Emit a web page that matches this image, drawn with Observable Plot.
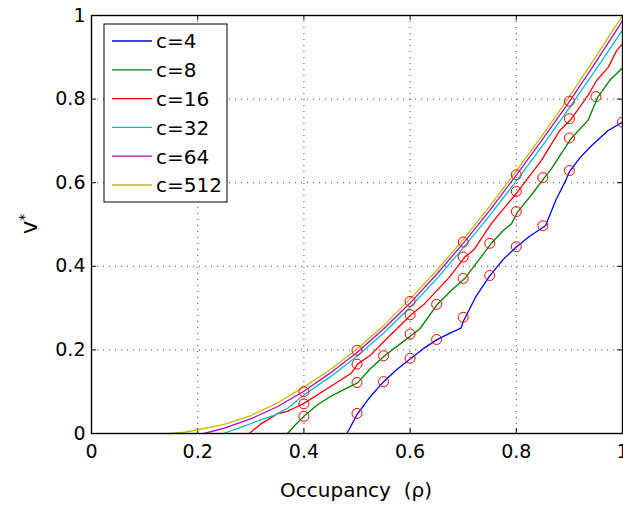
<!DOCTYPE html>
<html><head><meta charset="utf-8">
<script src="https://cdn.jsdelivr.net/npm/d3@7"></script>
<script src="https://cdn.jsdelivr.net/npm/@observablehq/plot@0.6"></script>
<style>
body{margin:0;background:#fff}
svg{font-family:"DejaVu Sans",sans-serif}
</style>
</head><body><div id="chart"></div>
<script>
// ---- data ----
const seriesNames = ["c=4","c=8","c=16","c=32","c=64","c=512"];
const seriesColors = ["#0000ff","#008000","#ff0000","#00bfbf","#bf00bf","#bfbf00"];

const c4X = [0.481,0.5,0.525,0.55,0.575,0.6,0.625,0.65,0.675,0.696,0.7,0.725,0.75,0.775,0.8,0.825,0.855,0.875,0.894,0.9,0.92,0.942,0.973,1.0];
const c4Y = [0,0.045,0.088,0.124,0.153,0.178,0.203,0.224,0.24,0.252,0.268,0.33,0.377,0.416,0.446,0.472,0.497,0.56,0.608,0.626,0.66,0.689,0.725,0.745];

const c8X = [0.369,0.385,0.4,0.425,0.451,0.475,0.501,0.525,0.552,0.585,0.618,0.652,0.68,0.703,0.743,0.753,0.775,0.791,0.803,0.83,0.853,0.866,0.904,0.935,0.954,0.976,1.0];
const c8Y = [0,0.022,0.041,0.068,0.089,0.105,0.121,0.155,0.186,0.218,0.25,0.31,0.345,0.371,0.438,0.455,0.485,0.502,0.531,0.573,0.612,0.633,0.707,0.749,0.806,0.845,0.875];

const c16X = [0.297,0.319,0.35,0.369,0.382,0.4,0.451,0.489,0.501,0.526,0.552,0.602,0.627,0.674,0.703,0.721,0.753,0.803,0.847,0.882,0.904,0.935,0.951,0.973,0.989,1.0];
const c16Y = [0,0.023,0.047,0.053,0.061,0.072,0.113,0.144,0.166,0.188,0.222,0.284,0.31,0.374,0.422,0.441,0.502,0.579,0.653,0.725,0.753,0.809,0.844,0.876,0.916,0.932];

const c32X = [0.248,0.28,0.319,0.345,0.369,0.4,0.45,0.5,0.55,0.6,0.65,0.7,0.75,0.8,0.85,0.9,0.95,1.0];
const c32Y = [0,0.014,0.033,0.044,0.06,0.092,0.136,0.185,0.24,0.302,0.37,0.444,0.522,0.604,0.69,0.779,0.871,0.965];

const c64X = [0.212,0.25,0.3,0.35,0.4,0.45,0.5,0.55,0.6,0.65,0.7,0.75,0.8,0.85,0.9,0.95,1.0];
const c64Y = [0,0.013,0.035,0.064,0.101,0.145,0.194,0.25,0.312,0.381,0.455,0.534,0.618,0.705,0.794,0.889,0.987];

const c512X = [0.146,0.175,0.2,0.25,0.3,0.35,0.4,0.45,0.5,0.55,0.6,0.65,0.7,0.75,0.8,0.85,0.9,0.95,1.0];
const c512Y = [0,0.003,0.009,0.022,0.043,0.073,0.111,0.153,0.202,0.258,0.322,0.39,0.464,0.544,0.628,0.715,0.806,0.902,1.0];

// circle markers
const mark4X = [0.5,0.55,0.6,0.65,0.7,0.75,0.8,0.85,0.9,1.0];
const mark4Y = [0.048,0.124,0.18,0.225,0.278,0.378,0.447,0.497,0.629,0.745];
const mark8X = [0.4,0.5,0.55,0.6,0.65,0.7,0.75,0.8,0.85,0.9,0.95];
const mark8Y = [0.041,0.122,0.186,0.238,0.309,0.371,0.455,0.531,0.612,0.707,0.806];
const mark16X = [0.4,0.5,0.6,0.7,0.8,0.9];
const mark16Y = [0.071,0.166,0.284,0.422,0.579,0.753];
const markTopX = [0.4,0.5,0.6,0.7,0.8,0.9];
const markTopY = [0.1,0.199,0.316,0.458,0.619,0.795];

const xTicks = [0,0.2,0.4,0.6,0.8,1];
const yTicks = [0,0.2,0.4,0.6,0.8,1];
const xLabel = "Occupancy  (\u03c1)";
const yLabel = "v";
const yLabelSup = "*";

// ---- build tables ----
const lineSets = [[c4X,c4Y],[c8X,c8Y],[c16X,c16Y],[c32X,c32Y],[c64X,c64Y],[c512X,c512Y]];
const lines = lineSets.flatMap(([xs,ys],i)=>xs.map((x,j)=>({x, y:ys[j], s:seriesNames[i]})));
const markSets = [[mark4X,mark4Y],[mark8X,mark8Y],[mark16X,mark16Y],[markTopX,markTopY]];
const markers = markSets.flatMap(([xs,ys])=>xs.map((x,j)=>({x, y:ys[j]})));

const W = 623, H = 513, mL = 91, mR = 1, mT = 15, mB = 80;
const fw = W - mL - mR, fh = H - mT - mB, tk = 5;
const fmt = d => String(d);

const plot = Plot.plot({
  width: W, height: H,
  marginLeft: mL, marginRight: mR, marginTop: mT, marginBottom: mB,
  style: {fontFamily: "DejaVu Sans, sans-serif", fontSize: "19px", background: "#fff", color: "#000"},
  x: {domain: [0,1]},
  y: {domain: [0,1]},
  color: {domain: seriesNames, range: seriesColors},
  marks: [
    Plot.ruleX(xTicks.slice(1,-1), {stroke: "#444", strokeDasharray: "1,5"}),
    Plot.ruleY(yTicks.slice(1,-1), {stroke: "#444", strokeDasharray: "1,5"}),
    Plot.ruleX(xTicks, {insetTop: fh - tk, stroke: "#000"}),
    Plot.ruleX(xTicks, {insetBottom: fh - tk, stroke: "#000"}),
    Plot.ruleY(yTicks, {insetRight: fw - tk, stroke: "#000"}),
    Plot.ruleY(yTicks, {insetLeft: fw - tk, stroke: "#000"}),
    Plot.line(lines, {x: "x", y: "y", z: "s", stroke: "s", strokeWidth: 1.3}),
    Plot.dot(markers, {x: "x", y: "y", r: 5, stroke: "#ff0000", strokeWidth: 1, fill: "none"}),
    Plot.frame({stroke: "#000", strokeWidth: 1.4}),
    Plot.axisX({ticks: xTicks, tickSize: 0, tickPadding: 11, tickFormat: fmt, label: null}),
    Plot.axisY({ticks: yTicks, tickSize: 0, tickPadding: 6, tickFormat: fmt, label: null})
  ]
});

const svg = d3.select(plot);
// legend
const lg = svg.append("g").attr("text-anchor","start");
lg.append("rect").attr("x",104).attr("y",24).attr("width",123).attr("height",178)
  .attr("fill","#fff").attr("stroke","#000").attr("stroke-width",1);
seriesNames.forEach((n,i)=>{
  const cy = 41 + i*28.8;
  lg.append("line").attr("x1",112).attr("x2",152).attr("y1",cy).attr("y2",cy)
    .attr("stroke",seriesColors[i]).attr("stroke-width",1.3);
  lg.append("text").attr("x",156).attr("y",cy+7.3).attr("text-anchor","start")
    .attr("font-size",20).attr("fill","#000").text(n);
});
// x label
svg.append("text").attr("x",356).attr("y",497).attr("text-anchor","middle")
  .attr("font-size",20).attr("fill","#000").style("white-space","pre").text(xLabel);
// y label
const yl = svg.append("text").attr("transform","translate(37,224) rotate(-90)")
  .attr("text-anchor","middle").attr("font-size",23).attr("fill","#000");
yl.append("tspan").text(yLabel);
yl.append("tspan").attr("dy","-0.55em").attr("font-size",14).text(yLabelSup);

document.getElementById("chart").appendChild(plot);
</script>
</body></html>
